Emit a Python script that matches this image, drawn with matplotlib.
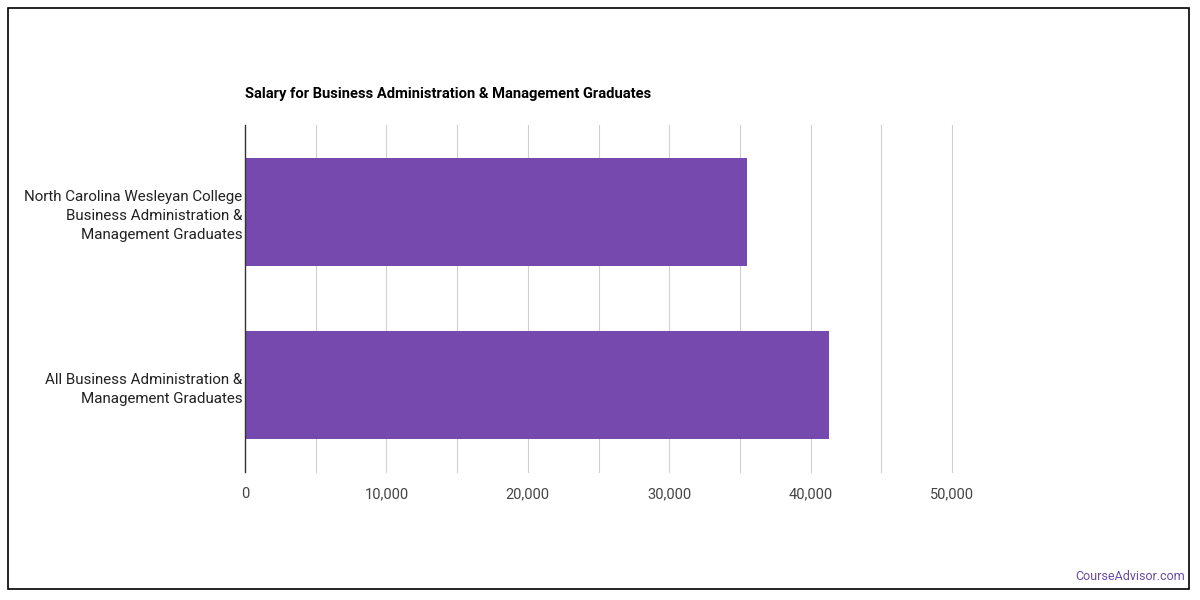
import matplotlib.pyplot as plt
from matplotlib.patches import Rectangle
from matplotlib.ticker import FuncFormatter

plt.rcParams['font.family'] = ['Roboto', 'DejaVu Sans']

# 数据
categories = [
    'North Carolina Wesleyan College\nBusiness Administration &\nManagement Graduates',
    'All Business Administration &\nManagement Graduates',
]
salaries = [35500, 41300]
tick_values = [0, 10000, 20000, 30000, 40000, 50000]
grid_values = list(range(0, 50001, 5000))

fig = plt.figure(figsize=(12, 6), dpi=100)
ax = fig.add_axes([245 / 1200, 1 - 472 / 600, (952 - 245) / 1200, (472 - 125) / 600])

# 外框
fig.patches.append(Rectangle((8 / 1200, 1 - 589 / 600), 1181 / 1200, 581 / 600,
                             transform=fig.transFigure, fill=False,
                             edgecolor='black', linewidth=1.2))

ypos = list(range(len(categories)))
ax.barh(ypos, salaries, height=0.62, color='#7549ae', zorder=3)

ax.set_ylim(len(categories) - 0.5, -0.5)
ax.set_xlim(0, 50000)

for g in grid_values[1:]:
    ax.axvline(g, color='#d0d0d0', linewidth=0.8, zorder=1, clip_on=False)

for s in ['top', 'right', 'bottom']:
    ax.spines[s].set_visible(False)
ax.spines['left'].set_color('#333333')
ax.spines['left'].set_linewidth(1.0)
ax.spines['left'].set_zorder(4)

ax.set_yticks(ypos)
ax.set_yticklabels(categories, fontsize=10.9, color='#222222', linespacing=1.45)
ax.tick_params(axis='y', length=0, pad=2)

ax.set_xticks(tick_values)
ax.xaxis.set_major_formatter(FuncFormatter(lambda v, p: f'{int(v):,}'))
ax.tick_params(axis='x', length=0, pad=11, labelsize=10.5, labelcolor='#444444')

fig.text(245 / 1200, 1 - 94 / 600, 'Salary for Business Administration & Management Graduates',
         fontsize=10.6, fontweight='bold', color='black', ha='left', va='center')

fig.text(1185 / 1200, 1 - 577 / 600, 'CourseAdvisor.com', fontsize=9.0,
         color='#6a4aa5', ha='right', va='center')

fig.savefig('out.png', dpi=100)
